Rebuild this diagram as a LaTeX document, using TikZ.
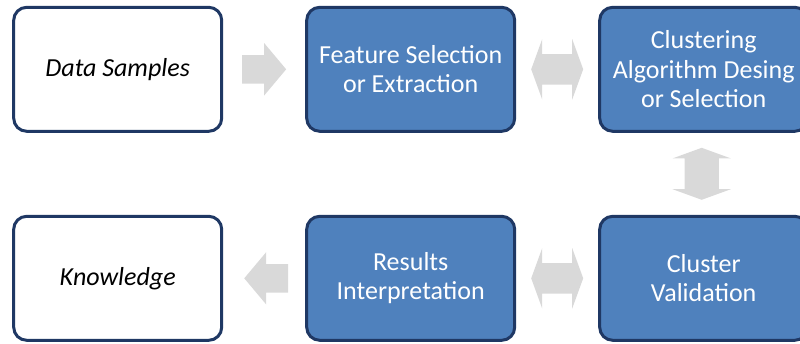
\documentclass[tikz,border=0pt]{standalone}
\usepackage{fontspec}
\setmainfont{Carlito}
\usepackage{xcolor}
\usepackage{tikz}
\usetikzlibrary{positioning,calc,shapes.arrows}

\definecolor{boxblue}{HTML}{4F81BD}
\definecolor{boxline}{HTML}{1F3864}
\definecolor{arrgray}{HTML}{D9D9D9}

\begin{document}
\begin{tikzpicture}[x=1pt,y=-1pt,
  stage/.style={draw=boxline,line width=3pt,rounded corners=13pt,
    minimum width=208pt,minimum height=124pt,align=center,
    font=\fontsize{26}{29.5}\selectfont},
  bluestage/.style={stage,fill=boxblue,text=white},
  endstage/.style={stage,fill=white,text=black,font=\fontsize{26}{29.5}\selectfont\itshape},
  onearrow/.style={single arrow,fill=arrgray,draw=none,inner xsep=0pt,inner ysep=14pt,
    minimum height=44pt,single arrow head extend=12pt,
    single arrow tip angle=100},
  twoarrow/.style={double arrow,fill=arrgray,draw=none,inner xsep=0pt,inner ysep=15pt,
    minimum height=52pt,double arrow head extend=15pt,
    double arrow tip angle=140}]
  \useasboundingbox (0,0) rectangle (800,343);
  \clip (0,0) rectangle (800,343);
  % top row
  \node[endstage] (samples) at (117.7,69.3) {Data Samples};
  \node[bluestage,right=82pt of samples] (feature) {Feature Selection\\or Extraction};
  \node[bluestage,right=82pt of feature] (algo) {Clustering\\Algorithm Desing\\or Selection};
  % bottom row
  \node[bluestage,below=82pt of algo] (valid) {Cluster\\Validation};
  \node[bluestage,left=82pt of valid] (results) {Results\\Interpretation};
  \node[endstage,left=82pt of results] (knowledge) {Knowledge};
  % block arrows
  \node[onearrow,xshift=-6pt] (a1) at ($(samples.east)!.5!(feature.west)$) {};
  \node[twoarrow] (a2) at ($(feature.east)!.5!(algo.west)$) {};
  \node[twoarrow,shape border rotate=90,inner xsep=17pt,inner ysep=0pt,
    double arrow head extend=12pt,xshift=-2pt] (a3) at ($(algo.south)!.5!(valid.north)$) {};
  \node[twoarrow] (a4) at ($(results.east)!.5!(valid.west)$) {};
  \node[onearrow,shape border rotate=180,xshift=8pt] (a5) at ($(knowledge.east)!.5!(results.west)$) {};
\end{tikzpicture}
\end{document}
